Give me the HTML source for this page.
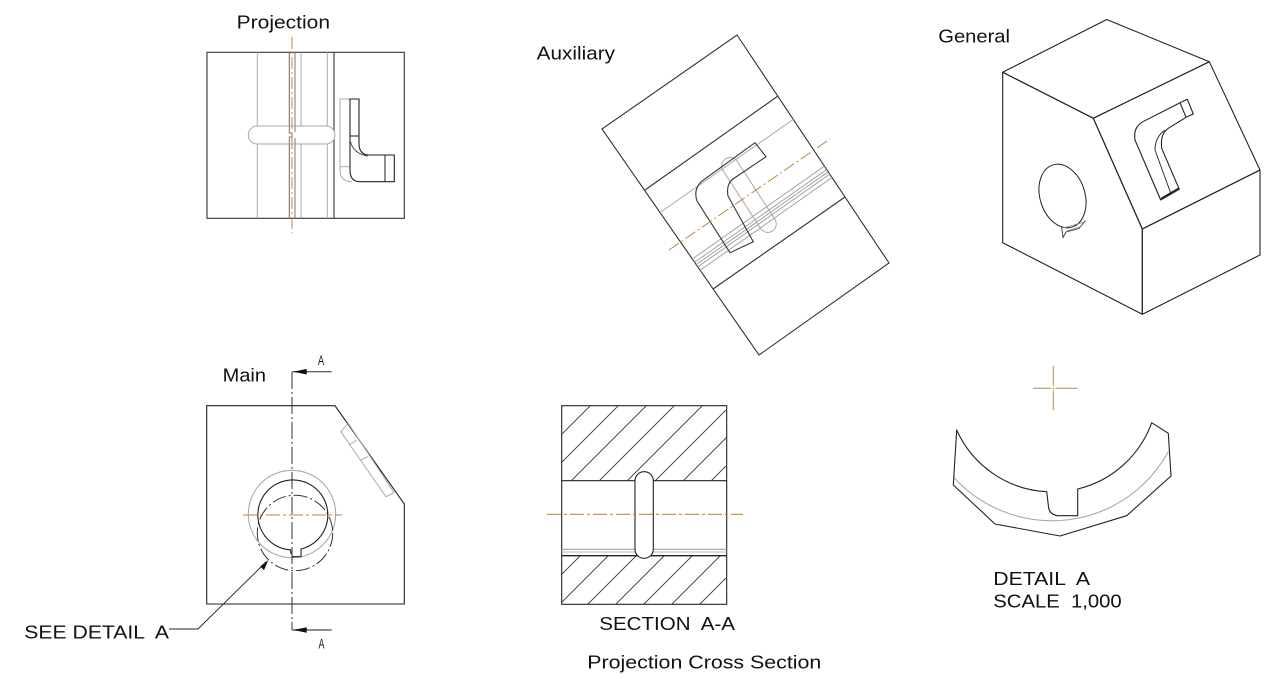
<!DOCTYPE html>
<html>
<head>
<meta charset="utf-8">
<style>
  html,body{margin:0;padding:0;background:#fff;}
  svg{display:block;}
  text{font-family:"Liberation Sans",Arial,sans-serif;fill:#111;white-space:pre;}
</style>
</head>
<body>
<svg width="1280" height="679" viewBox="0 0 1280 679" xmlns="http://www.w3.org/2000/svg">
  <defs>
    <clipPath id="hatchTop"><rect x="562" y="406" width="165" height="75"/></clipPath>
    <clipPath id="hatchBot"><rect x="562" y="556" width="165" height="48"/></clipPath>
  </defs>

  <!-- ================= PROJECTION ================= -->
  <text x="236.7" y="28.3" font-size="18.5" textLength="93.3" lengthAdjust="spacingAndGlyphs">Projection</text>
  <rect x="207" y="52.3" width="197.3" height="166" fill="none" stroke="#333" stroke-width="1.1"/>
  <line x1="257.3" y1="52.3" x2="257.3" y2="218.3" stroke="#aaa" stroke-width="1"/>
  <line x1="289.3" y1="52.3" x2="289.3" y2="218.3" stroke="#666" stroke-width="1"/>
  <line x1="295" y1="52.3" x2="295" y2="218.3" stroke="#777" stroke-width="1"/>
  <line x1="301" y1="52.3" x2="301" y2="218.3" stroke="#aaa" stroke-width="1"/>
  <line x1="327.3" y1="52.3" x2="327.3" y2="218.3" stroke="#aaa" stroke-width="1"/>
  <line x1="334" y1="52.3" x2="334" y2="218.3" stroke="#555" stroke-width="1.3"/>
  <!-- horizontal slot -->
  <rect x="248.3" y="126" width="86.7" height="18" rx="9" fill="#fff" stroke="#aaa" stroke-width="1"/>
  <path d="M289.3,126 L289.3,133 L292,133 L292,137 L289.3,137 L289.3,144" fill="none" stroke="#777" stroke-width="1"/>
  <path d="M295,126 L295,132 M295,138 L295,144" fill="none" stroke="#777" stroke-width="1"/>
  <!-- center line -->
  <line x1="292" y1="37" x2="292" y2="233" stroke="#c08645" stroke-width="1" stroke-dasharray="12 3 2 3"/>
  <!-- L shape -->
  <path d="M350,99 L340,99 L340,170 Q340,181.7 352,181.7" fill="none" stroke="#aaa" stroke-width="1"/>
  <line x1="340" y1="166.7" x2="350" y2="166.7" stroke="#aaa" stroke-width="1"/>
  <path d="M350,99 L359,99 L359,143.3 Q359,155 369,155 L394.3,155 L394.3,181.7 L360,181.7 Q350,181.7 350,170 Z" fill="none" stroke="#222" stroke-width="1.1"/>
  <line x1="350" y1="136" x2="359" y2="136" stroke="#222" stroke-width="1"/>
  <line x1="385" y1="155" x2="385" y2="181.7" stroke="#222" stroke-width="1"/>
  <path d="M350,140 Q353,154 368,156" fill="none" stroke="#444" stroke-width="0.9"/>

  <!-- ================= AUXILIARY ================= -->
  <text x="536.7" y="59.3" font-size="18.5" textLength="78.3" lengthAdjust="spacingAndGlyphs">Auxiliary</text>
  <polygon points="602,129 737,35 889,263 759,355" fill="none" stroke="#333" stroke-width="1.1"/>
  <line x1="645" y1="190" x2="778" y2="96" stroke="#333" stroke-width="1.1"/>
  <line x1="713" y1="289" x2="845" y2="197" stroke="#333" stroke-width="1.1"/>
  <line x1="660" y1="212.6" x2="793.2" y2="119.4" stroke="#aaa" stroke-width="1"/>
  <g stroke="#9a9a9a" stroke-width="0.9">
    <line x1="692.3" y1="259" x2="824.4" y2="166.1"/>
    <line x1="694.6" y1="262.3" x2="826.7" y2="169.5"/>
    <line x1="696.2" y1="264.6" x2="828.2" y2="171.8"/>
    <line x1="697.8" y1="266.9" x2="829.7" y2="174.1"/>
    <line x1="700.1" y1="270.3" x2="832" y2="177.5"/>
  </g>
  <rect x="706" y="186.5" width="86" height="17" rx="8.5" fill="none" stroke="#aaa" stroke-width="1" transform="rotate(57 749 195)"/>
  <path d="M755,142.7 L766,156.7 L733,179 Q726,184 728,196 L753.3,241.7 L730,252.7 L697,201 Q693,189 702,181 Z" fill="none" stroke="#333" stroke-width="1.1"/>
  <line x1="669" y1="250" x2="830" y2="139" stroke="#c08645" stroke-width="1" stroke-dasharray="12 3 2 3"/>

  <!-- ================= GENERAL ================= -->
  <text x="938.3" y="42.7" font-size="18.5" textLength="71.7" lengthAdjust="spacingAndGlyphs">General</text>
  <g fill="none" stroke="#222" stroke-width="1.1" stroke-linejoin="round">
    <polygon points="1002.7,72.3 1106.7,19.5 1209.3,61.7 1093.3,118.3"/>
    <polygon points="1002.7,72.3 1093.3,118.3 1142.3,229 1142.3,314.3 1002.7,242.7"/>
    <polygon points="1093.3,118.3 1209.3,61.7 1260,170 1142.3,229"/>
    <polygon points="1142.3,229 1260,170 1260,255 1142.3,314.3"/>
    <ellipse cx="1062.5" cy="196" rx="22.5" ry="32.5" transform="rotate(-17 1062.5 196)" stroke-width="1"/>
    <path d="M1180,102.7 L1187.3,99.3 L1193.3,114 L1186,117.3 L1168.3,128.3 Q1160,134 1161.7,148.3 L1179.3,189.3 L1160.7,200 L1135,140 Q1133,127 1143,121.7 Z"/>
    <line x1="1180" y1="102.7" x2="1186" y2="117.3"/>
    <path d="M1165,130 Q1155,137 1155,150 L1171,194" stroke-width="0.9"/>
    <line x1="1161" y1="198.5" x2="1179" y2="188" stroke-width="1.4"/>
  </g>
  <path d="M1061.5,226.5 L1063,237.5 L1066,232 L1079,228.5 L1085.5,220.5" fill="none" stroke="#333" stroke-width="0.9"/>
  <path d="M1063,228 L1083,222.5 M1067,231 L1081,226.5" fill="none" stroke="#888" stroke-width="0.8"/>

  <!-- ================= MAIN ================= -->
  <text x="222.7" y="381.7" font-size="18.5" textLength="43.3" lengthAdjust="spacingAndGlyphs">Main</text>
  <polygon points="206.7,405.7 335,405.7 404.3,504 404.3,604 206.7,604" fill="none" stroke="#222" stroke-width="1.1"/>
  <!-- chamfer feature -->
  <polygon points="340.7,431.7 348.3,423.3 394,492.7 386,496.7" fill="none" stroke="#aaa" stroke-width="1"/>
  <line x1="349" y1="445" x2="356.7" y2="440" stroke="#aaa" stroke-width="1"/>
  <line x1="361" y1="460" x2="368" y2="456.7" stroke="#aaa" stroke-width="1"/>
  <!-- circles -->
  <circle cx="292" cy="514" r="43.7" fill="none" stroke="#aaa" stroke-width="1.1"/>
  <circle cx="295" cy="533" r="37.7" fill="none" stroke="#333" stroke-width="1" stroke-dasharray="14 3 2 3"/>
  <path d="M301,549 A35,35 0 1 0 290.7,549.9 L290.7,553 L292,554 L292,556.7 L301,556.7 Z" fill="none" stroke="#222" stroke-width="1.1"/>
  <!-- center lines -->
  <line x1="292" y1="372" x2="292" y2="630" stroke="#333" stroke-width="1" stroke-dasharray="17 3 2 3"/>
  <line x1="243" y1="515" x2="342" y2="515" stroke="#c08645" stroke-width="1.1" stroke-dasharray="14 3 3 3"/>
  <!-- section arrows -->
  <line x1="292" y1="371.7" x2="331.7" y2="371.7" stroke="#666" stroke-width="1.4"/>
  <polygon points="293.3,371.7 306.7,368.9 306.7,374.5" fill="#111"/>
  <line x1="292" y1="630" x2="331.7" y2="630" stroke="#666" stroke-width="1.4"/>
  <polygon points="293.3,630 306.7,627.2 306.7,632.8" fill="#111"/>
  <text x="321" y="365" font-size="14" text-anchor="middle" transform="translate(321 0) scale(0.65 1) translate(-321 0)">A</text>
  <text x="321.5" y="648.3" font-size="14" text-anchor="middle" transform="translate(321.5 0) scale(0.65 1) translate(-321.5 0)">A</text>
  <!-- leader -->
  <polyline points="169,629 198,629 266,562" fill="none" stroke="#222" stroke-width="0.9"/>
  <polygon points="268.3,560 260.2,566.5 264,570.2" fill="#111"/>
  <text x="24.3" y="638.3" font-size="18.5" textLength="144.7" lengthAdjust="spacingAndGlyphs">SEE DETAIL  A</text>

  <!-- ================= SECTION A-A ================= -->
  <g clip-path="url(#hatchTop)" stroke="#333" stroke-width="0.9">
    <line x1="618" y1="350" x2="318" y2="650"/>
    <line x1="646" y1="350" x2="346" y2="650"/>
    <line x1="674" y1="350" x2="374" y2="650"/>
    <line x1="702" y1="350" x2="402" y2="650"/>
    <line x1="730" y1="350" x2="430" y2="650"/>
    <line x1="758" y1="350" x2="458" y2="650"/>
    <line x1="786" y1="350" x2="486" y2="650"/>
    <line x1="814" y1="350" x2="514" y2="650"/>
    <line x1="842" y1="350" x2="542" y2="650"/>
    <line x1="870" y1="350" x2="570" y2="650"/>
  </g>
  <g clip-path="url(#hatchBot)" stroke="#333" stroke-width="0.9">
    <line x1="758" y1="350" x2="458" y2="650"/>
    <line x1="786" y1="350" x2="486" y2="650"/>
    <line x1="814" y1="350" x2="514" y2="650"/>
    <line x1="842" y1="350" x2="542" y2="650"/>
    <line x1="870" y1="350" x2="570" y2="650"/>
    <line x1="898" y1="350" x2="598" y2="650"/>
    <line x1="926" y1="350" x2="626" y2="650"/>
    <line x1="954" y1="350" x2="654" y2="650"/>
    <line x1="982" y1="350" x2="682" y2="650"/>
    <line x1="1010" y1="350" x2="710" y2="650"/>
  </g>
  <rect x="561.7" y="405.7" width="165" height="198.6" fill="none" stroke="#222" stroke-width="1.1"/>
  <line x1="561.7" y1="480.7" x2="726.7" y2="480.7" stroke="#222" stroke-width="1.1"/>
  <line x1="561.7" y1="549.3" x2="726.7" y2="549.3" stroke="#999" stroke-width="1"/>
  <line x1="561.7" y1="552" x2="726.7" y2="552" stroke="#bbb" stroke-width="1"/>
  <line x1="561.7" y1="555.7" x2="726.7" y2="555.7" stroke="#222" stroke-width="1.3"/>
  <rect x="635" y="471.7" width="18.3" height="86.6" rx="9" fill="#fff" stroke="#222" stroke-width="1.1"/>
  <line x1="547" y1="514.3" x2="743" y2="514.3" stroke="#c08645" stroke-width="1.1" stroke-dasharray="14 3 3 3"/>
  <text x="599.3" y="630" font-size="18.5" textLength="135.7" lengthAdjust="spacingAndGlyphs">SECTION  A-A</text>
  <text x="587.3" y="668.3" font-size="18.5" textLength="234" lengthAdjust="spacingAndGlyphs">Projection Cross Section</text>

  <!-- ================= DETAIL A ================= -->
  <g stroke="#c08645" stroke-width="1">
    <line x1="1033.3" y1="388.3" x2="1051" y2="388.3"/>
    <line x1="1055.5" y1="388.3" x2="1077.7" y2="388.3"/>
    <line x1="1053.3" y1="366" x2="1053.3" y2="386"/>
    <line x1="1053.3" y1="390.5" x2="1053.3" y2="410"/>
  </g>
  <circle cx="1053.3" cy="388.3" r="0.8" fill="#c08645"/>
  <path d="M953.3,476.7 A132.5,132.5 0 0 0 1168.3,451.7" fill="none" stroke="#aaa" stroke-width="1.1"/>
  <path d="M956.7,430 L953.3,485 L995,524 L1060,536 L1126.7,515.7 L1171,476 L1168.3,433.3 L1151.7,422.7 A104.5,104.5 0 0 1 1077.7,489 L1077.7,515.7 L1057,515.7 Q1048.5,514 1048.3,505 L1046.7,491.7 A104.5,104.5 0 0 1 956.7,430 Z" fill="none" stroke="#222" stroke-width="1.1" stroke-linejoin="round"/>
  <text x="993.3" y="585" font-size="18.5" textLength="96.7" lengthAdjust="spacingAndGlyphs">DETAIL  A</text>
  <text x="993.3" y="607.3" font-size="18.5" textLength="128.4" lengthAdjust="spacingAndGlyphs">SCALE  1,000</text>
</svg>
</body>
</html>
